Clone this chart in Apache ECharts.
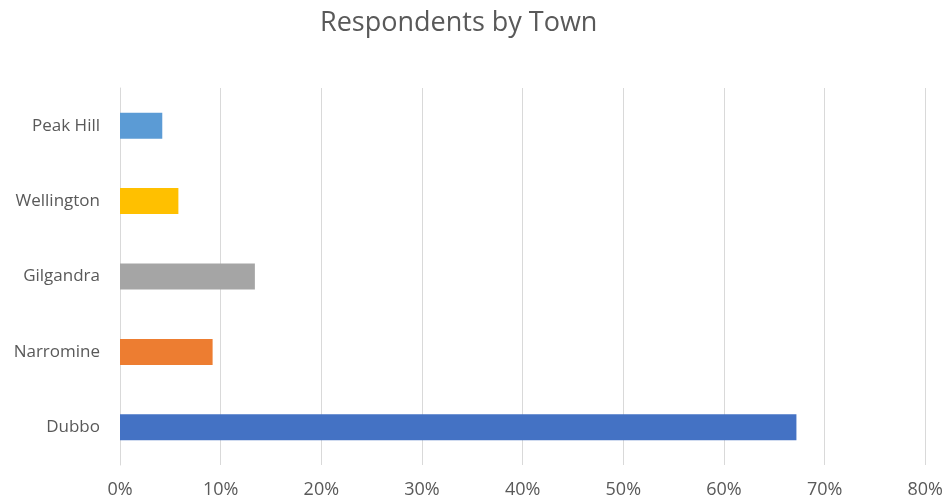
<!DOCTYPE html>
<html>
<head>
<meta charset="utf-8">
<script src="https://cdn.jsdelivr.net/npm/echarts@6/dist/echarts.min.js"></script>
<style>
  html, body { margin: 0; padding: 0; background: #fff; }
  #chart { width: 946px; height: 502px; }
</style>
</head>
<body>
<div id="chart"></div>
<script>
// Towns, listed bottom to top as they appear on the vertical axis
const towns = ['Dubbo', 'Narromine', 'Gilgandra', 'Wellington', 'Peak Hill'];
// Share of respondents per town (percent)
const shares = [67.2, 9.2, 13.4, 5.8, 4.2];
// Fill colour for each town's bar
const townColors = ['#4472C4', '#ED7D31', '#A5A5A5', '#FFC000', '#5B9BD5'];
// Percentage axis range and step
const axisMax = 80;
const axisStep = 10;

const font = '"Open Sans", "Liberation Sans", sans-serif';
const textColor = '#595959';

const chart = echarts.init(document.getElementById('chart'), null, { renderer: 'canvas' });
chart.setOption({
  animation: false,
  backgroundColor: '#ffffff',
  title: {
    text: 'Respondents by Town',
    left: 315,
    top: 5,
    textStyle: { fontFamily: font, fontSize: 27, fontWeight: 'normal', color: textColor }
  },
  grid: { left: 120, right: 20, top: 88, bottom: 37, containLabel: false },
  xAxis: {
    type: 'value',
    min: 0,
    max: axisMax,
    interval: axisStep,
    axisLine: { show: false },
    axisTick: { show: false },
    splitLine: { show: true, lineStyle: { color: '#d9d9d9', width: 1 } },
    axisLabel: {
      formatter: v => v + '%',
      fontFamily: font,
      fontSize: 18,
      color: textColor,
      margin: 16
    }
  },
  yAxis: {
    type: 'category',
    data: towns,
    axisLine: { show: true, lineStyle: { color: '#d9d9d9', width: 1 } },
    axisTick: { show: false },
    axisLabel: { fontFamily: font, fontSize: 17, color: textColor, margin: 20 }
  },
  series: [{
    type: 'bar',
    data: shares.map((v, i) => ({ value: v, itemStyle: { color: townColors[i] } })),
    barWidth: '34.5%'
  }]
});
</script>
</body>
</html>
